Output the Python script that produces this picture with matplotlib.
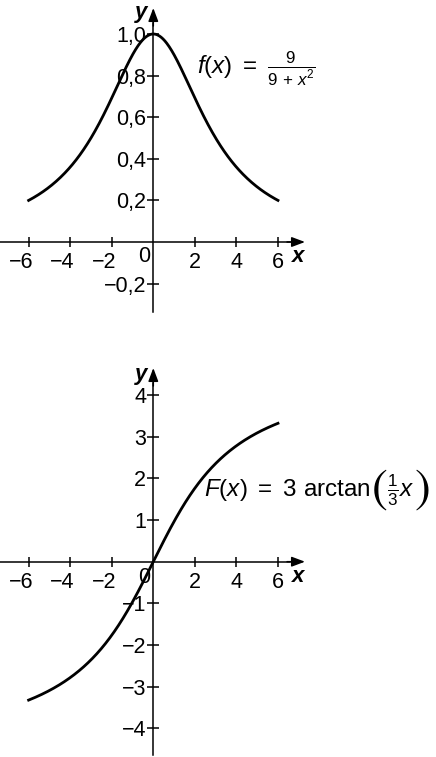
import numpy as np
import matplotlib
matplotlib.use("Agg")
import matplotlib.pyplot as plt
from matplotlib.transforms import ScaledTranslation
from matplotlib.offsetbox import TextArea, HPacker, AnnotationBbox

plt.rcParams["font.family"] = ["Liberation Sans", "DejaVu Sans"]
plt.rcParams["mathtext.fontset"] = "custom"
plt.rcParams["mathtext.rm"] = "Liberation Sans"
plt.rcParams["mathtext.it"] = "Liberation Sans:italic"
plt.rcParams["mathtext.bf"] = "Liberation Sans:bold"

# data
x_start, x_end = -6, 6
x_ticks = [-6, -4, -2, 2, 4, 6]
x_tick_labels = ["\u22126", "\u22124", "\u22122", "2", "4", "6"]

f_yticks = [-0.2, 0.2, 0.4, 0.6, 0.8, 1.0]
f_yticklabels = ["\u22120,2", "0,2", "0,4", "0,6", "0,8", "1,0"]
F_yticks = [-4, -3, -2, -1, 1, 2, 3, 4]
F_yticklabels = ["\u22124", "\u22123", "\u22122", "\u22121", "1", "2", "3", "4"]

xs = np.linspace(x_start, x_end, 400)
f_vals = 9 / (9 + xs ** 2)
F_vals = 3 * np.arctan(xs / 3)

W, H = 436, 757
fig = plt.figure(figsize=(W / 100, H / 100), dpi=100)

FS = 15.5
FS_ANN = 17.5
LW_AX = 1.1
sx = 20.78


def make_axes(top_px, bot_px, xlim, ylim):
    ax = fig.add_axes([0, 1 - bot_px / H, 1, (bot_px - top_px) / H])
    ax.set_xlim(*xlim)
    ax.set_ylim(*ylim)
    ax.patch.set_alpha(0)
    for s in ["top", "right"]:
        ax.spines[s].set_visible(False)
    ax.spines["left"].set_position(("data", 0))
    ax.spines["bottom"].set_position(("data", 0))
    ax.spines["left"].set_linewidth(LW_AX)
    ax.spines["bottom"].set_linewidth(LW_AX)
    ax.set_xticks(x_ticks)
    ax.set_xticklabels(x_tick_labels)
    ax.tick_params(axis="both", direction="inout", width=LW_AX,
                   labelsize=FS, colors="black")
    ax.tick_params(axis="x", length=7, pad=4.0)
    ax.tick_params(axis="y", length=8.5, pad=0.8)
    # digits centred under the ticks, minus sign hanging to the left
    for lab in ax.get_xticklabels():
        if lab.get_text().startswith("\u2212"):
            lab.set_transform(lab.get_transform() + ScaledTranslation(-5.5 / 72, 0, fig.dpi_scale_trans))
    return ax


def axis_arrows(ax, xmin, xtip, ymin, ytip, xhead, yhead):
    ax.spines["bottom"].set_bounds(xmin, xtip - xhead)
    ax.spines["left"].set_bounds(ymin, ytip - yhead)
    ap = dict(arrowstyle="-|>,head_length=0.8,head_width=0.3", color="black",
              lw=LW_AX, shrinkA=0, shrinkB=0)
    ax.annotate("", xy=(xtip, 0), xytext=(xtip - xhead * 1.2, 0), arrowprops=ap)
    ax.annotate("", xy=(0, ytip), xytext=(0, ytip - yhead * 1.2), arrowprops=ap)


# top plot
ax1 = make_axes(0, 330, (-153.3 / sx, (W - 153.3) / sx), (-(330 - 242) / 208, 242 / 208))
ax1.plot(xs, f_vals, color="black", lw=2.0)
ax1.set_yticks(f_yticks)
ax1.set_yticklabels(f_yticklabels)
axis_arrows(ax1, -153.3 / sx, (305 - 153.3) / sx, -(312 - 242) / 208, (242 - 8) / 208,
            15 / sx, 15 / 208)
ax1.text(-0.45, -0.07, "0", fontsize=FS, ha="center", va="center")
ax1.text(6.65, -0.07, "x", fontsize=16, ha="left", va="center",
         fontweight="bold", fontstyle="italic")
ax1.text(-0.3, 1.105, "y", fontsize=16, ha="right", va="center",
         fontweight="bold", fontstyle="italic")
ax1.text(2.1, 0.835, r"$f(x)\ =\ \frac{9}{9\,+\,x^2}$", fontsize=FS_ANN, ha="left", va="center")

# bottom plot
sy = 41.67
ax2 = make_axes(340, 757, (-153.3 / sx, (W - 153.3) / sx), (-(757 - 561.7) / sy, (561.7 - 340) / sy))
ax2.plot(xs, F_vals, color="black", lw=2.0)
ax2.set_yticks(F_yticks)
ax2.set_yticklabels(F_yticklabels)
axis_arrows(ax2, -153.3 / sx, (305 - 153.3) / sx, -(755 - 561.7) / sy, (561.7 - 368) / sy,
            15 / sx, 15 / sy)
ax2.text(-0.45, -0.39, "0", fontsize=FS, ha="center", va="center")
ax2.text(6.65, -0.36, "x", fontsize=16, ha="left", va="center",
         fontweight="bold", fontstyle="italic")
ax2.text(-0.3, 4.5, "y", fontsize=16, ha="right", va="center",
         fontweight="bold", fontstyle="italic")

# F(x) = 3 arctan( 1/3 x ) with tall parentheses
paren = dict(fontsize=34, math_fontfamily="stix")
parts = [
    TextArea(r"$F(x)\ =\ 3\ \mathrm{arctan}$", textprops=dict(fontsize=FS_ANN)),
    TextArea(r"$(\!$", textprops=paren),
    TextArea(r"$\frac{1}{3}x$", textprops=dict(fontsize=FS_ANN)),
    TextArea(r"$\!)$", textprops=paren),
]
label = HPacker(children=parts, align="center", pad=0, sep=0)
ab = AnnotationBbox(label, (2.45, 1.72), xycoords="data", box_alignment=(0, 0.5),
                    frameon=False, pad=0)
ax2.add_artist(ab)

fig.savefig("out.png", dpi=100)
